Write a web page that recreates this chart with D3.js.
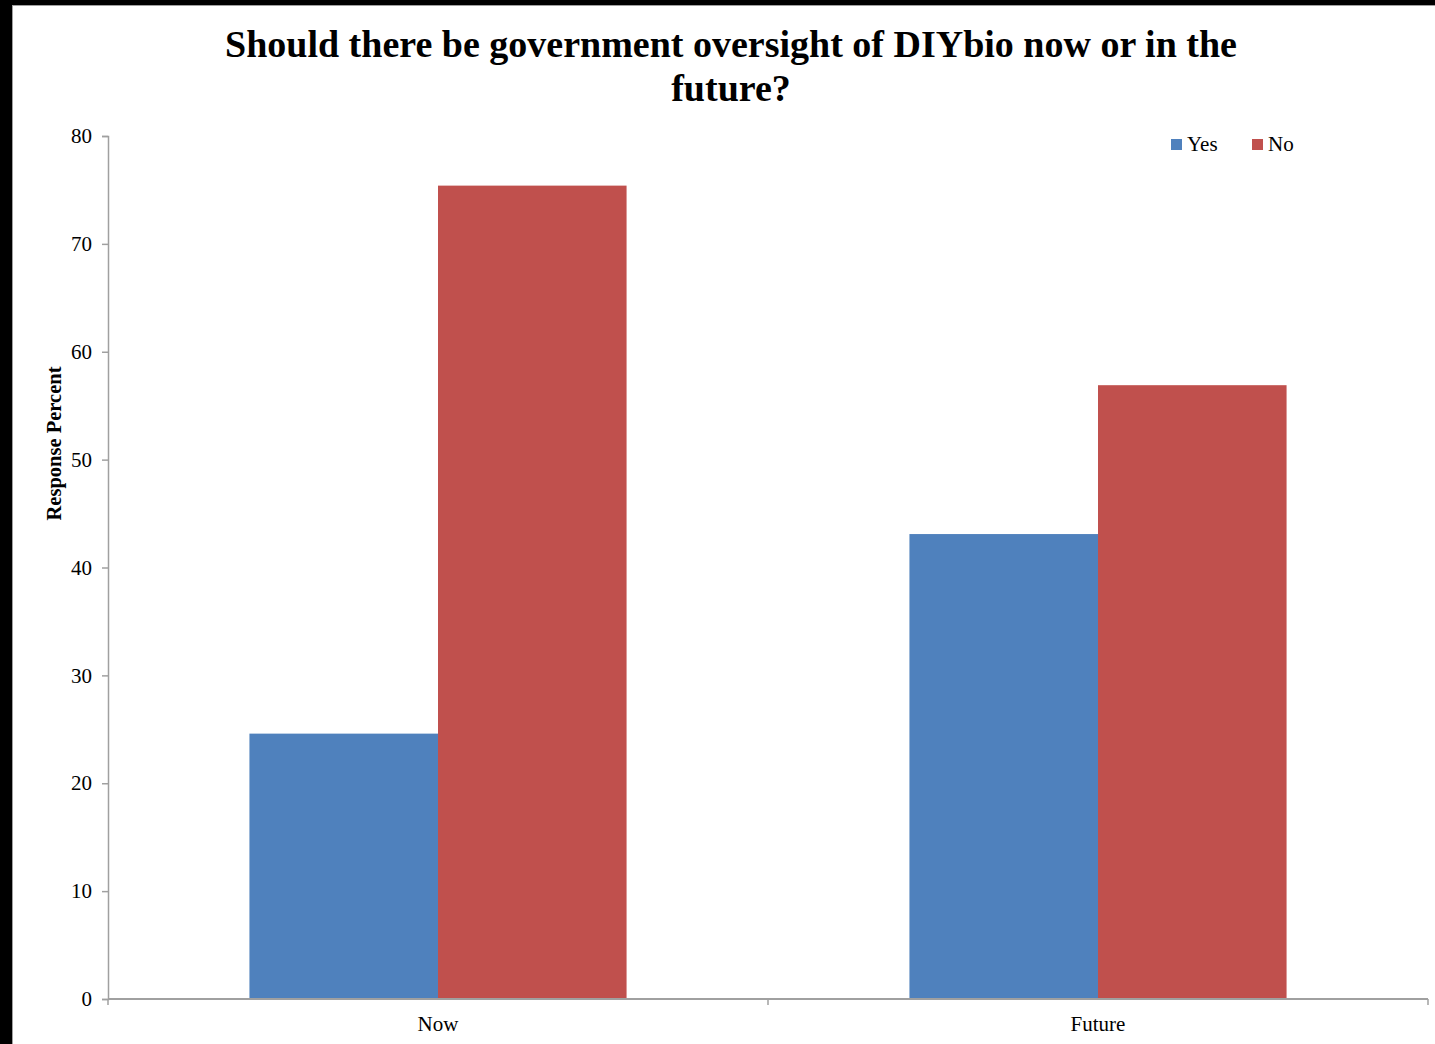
<!DOCTYPE html>
<html>
<head>
<meta charset="utf-8">
<script src="https://cdn.jsdelivr.net/npm/d3@7"></script>
<style>
  html, body { margin: 0; padding: 0; background: #000; }
  svg { display: block; }
</style>
</head>
<body>
<div id="chart"></div>
<script>
const categories = ["Now", "Future"];
const seriesNames = ["Yes", "No"];
const yesValues = [24.6, 43.1];
const noValues = [75.4, 56.9];
const yTicks = [0, 10, 20, 30, 40, 50, 60, 70, 80];

const COLORS = { Yes: "#4F81BD", No: "#C0504D" };
const FONT = "'Liberation Serif', 'Times New Roman', serif";

const W = 1435;
const H = 1044;
const margin = { top: 136, right: 7, bottom: 45, left: 108 };

const svg = d3.select("#chart")
  .append("svg")
  .attr("width", W)
  .attr("height", H);

// black frame around the white chart area
svg.append("rect").attr("width", W).attr("height", H).attr("fill", "#000");
svg.append("rect")
  .attr("x", 12.5).attr("y", 5.5)
  .attr("width", W - 12).attr("height", H)
  .attr("fill", "#fff")
  .attr("stroke", "#a0a0a0")
  .attr("stroke-width", 1);

// title
const title = svg.append("text")
  .attr("x", 731)
  .attr("text-anchor", "middle")
  .style("font-family", FONT)
  .style("font-weight", "bold")
  .style("font-size", "38px")
  .attr("fill", "#000");
title.append("tspan").attr("x", 731).attr("y", 57)
  .text("Should there be government oversight of DIYbio now or in the");
title.append("tspan").attr("x", 731).attr("y", 101).text("future?");

const x0 = d3.scaleBand()
  .domain(categories)
  .range([margin.left, W - margin.right])
  .padding(0);

const x1 = d3.scaleBand()
  .domain(seriesNames)
  .range([0, x0.bandwidth()])
  .paddingInner(0)
  .paddingOuter(0.75);

const y = d3.scaleLinear()
  .domain([0, 80])
  .range([H - margin.bottom, margin.top]);

const data = categories.map((c, i) => ({
  category: c,
  values: [
    { key: "Yes", value: yesValues[i] },
    { key: "No", value: noValues[i] }
  ]
}));

// bars
const groups = svg.append("g")
  .selectAll("g")
  .data(data)
  .enter()
  .append("g")
  .attr("transform", d => `translate(${x0(d.category)},0)`);

groups.selectAll("rect")
  .data(d => d.values)
  .enter()
  .append("rect")
  .attr("x", d => x1(d.key))
  .attr("y", d => y(d.value))
  .attr("width", x1.bandwidth())
  .attr("height", d => y(0) - y(d.value))
  .attr("fill", d => COLORS[d.key]);

// y axis
const yAxis = svg.append("g")
  .attr("transform", `translate(${margin.left},0)`)
  .call(d3.axisLeft(y).tickValues(yTicks).tickSize(6).tickPadding(10));
yAxis.selectAll("path, line").attr("stroke", "#a0a0a0").attr("stroke-width", 1.5);
yAxis.selectAll("text")
  .style("font-family", FONT)
  .style("font-size", "21px")
  .attr("fill", "#000");

// x axis, ticks at category boundaries
const xAxis = svg.append("g")
  .attr("transform", `translate(0,${y(0)})`);
xAxis.append("line")
  .attr("x1", margin.left).attr("x2", W - margin.right)
  .attr("stroke", "#a0a0a0").attr("stroke-width", 2);
const bounds = categories.map(c => x0(c)).concat([x0(categories[categories.length - 1]) + x0.bandwidth()]);
xAxis.selectAll(".tick")
  .data(bounds)
  .enter()
  .append("line")
  .attr("x1", d => d).attr("x2", d => d)
  .attr("y1", 0).attr("y2", 6)
  .attr("stroke", "#a0a0a0").attr("stroke-width", 1.5);
xAxis.selectAll(".label")
  .data(categories)
  .enter()
  .append("text")
  .attr("x", d => x0(d) + x0.bandwidth() / 2)
  .attr("y", 32)
  .attr("text-anchor", "middle")
  .style("font-family", FONT)
  .style("font-size", "21px")
  .attr("fill", "#000")
  .text(d => d);

// y axis title
svg.append("text")
  .attr("transform", `translate(61,${(y(0) + y(80)) / 2 - 124}) rotate(-90)`)
  .attr("text-anchor", "middle")
  .style("font-family", FONT)
  .style("font-weight", "bold")
  .style("font-size", "20.5px")
  .attr("fill", "#000")
  .text("Response Percent");

// legend
const legendX = [1171, 1252];
const legend = svg.append("g")
  .selectAll("g")
  .data(seriesNames)
  .enter()
  .append("g")
  .attr("transform", (d, i) => `translate(${legendX[i]},139)`);
legend.append("rect")
  .attr("width", 11).attr("height", 11)
  .attr("fill", d => COLORS[d]);
legend.append("text")
  .attr("x", 16).attr("y", 12)
  .style("font-family", FONT)
  .style("font-size", "21px")
  .attr("fill", "#000")
  .text(d => d);
</script>
</body>
</html>
